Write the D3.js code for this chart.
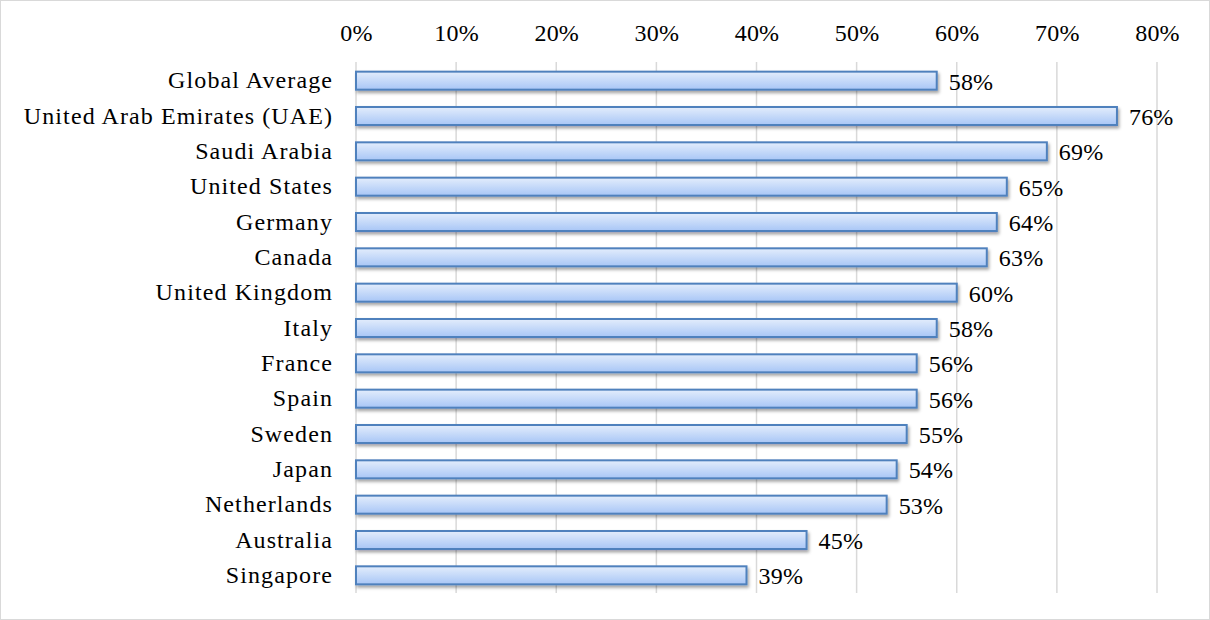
<!DOCTYPE html>
<html>
<head>
<meta charset="utf-8">
<script src="https://cdn.jsdelivr.net/npm/d3@7"></script>
<style>
  body { margin: 0; background: #fff; }
  svg text { font-family: "Liberation Serif", "Times New Roman", serif; fill: #000; }
</style>
</head>
<body>
<div id="chart"></div>
<script>
// categories and values (percent)
const countries = ['Global Average', 'United Arab Emirates (UAE)', 'Saudi Arabia', 'United States', 'Germany', 'Canada',
    'United Kingdom', 'Italy', 'France', 'Spain', 'Sweden', 'Japan', 'Netherlands', 'Australia', 'Singapore'];
const values = [58, 76, 69, 65, 64, 63, 60, 58, 56, 56, 55, 54, 53, 45, 39];
const ticks = [0, 10, 20, 30, 40, 50, 60, 70, 80];

const W = 1210, H = 620;
const margin = {top: 63, right: 53, bottom: 27, left: 356};
const width = W - margin.left - margin.right,
    height = H - margin.top - margin.bottom;
const fontSize = '24px';

const svg = d3.select('#chart')
    .append('svg')
        .attr('width', W)
        .attr('height', H);

// outer frame
svg.append('rect')
    .attr('x', 0.5).attr('y', 0.5)
    .attr('width', W - 1).attr('height', H - 1)
    .attr('fill', '#fff')
    .attr('stroke', '#d9d9d9');

const defs = svg.append('defs');
const grad = defs.append('linearGradient')
    .attr('id', 'barGrad')
    .attr('x1', 0).attr('y1', 0).attr('x2', 0).attr('y2', 1);
grad.append('stop').attr('offset', '0%').attr('stop-color', '#e3edfc');
grad.append('stop').attr('offset', '100%').attr('stop-color', '#a8c6f6');

const shadow = defs.append('filter').attr('id', 'shadow')
    .attr('x', '-5%').attr('y', '-50%').attr('width', '110%').attr('height', '220%');
shadow.append('feDropShadow')
    .attr('dx', 1.5).attr('dy', 2.5).attr('stdDeviation', 1.5)
    .attr('flood-color', '#000').attr('flood-opacity', 0.35);

const g = svg.append('g')
    .attr('transform', `translate(${margin.left},${margin.top})`);

var x = d3.scaleLinear()
    .domain([0, 80])
    .range([0, width]);

var y = d3.scaleBand()
    .domain(countries)
    .range([0, height])
    .paddingInner(0.49)
    .paddingOuter(0.245);

// vertical gridlines
g.append('g')
    .selectAll('line')
    .data(ticks)
    .enter()
    .append('line')
        .attr('x1', d => x(d)).attr('x2', d => x(d))
        .attr('y1', -1).attr('y2', height)
        .attr('stroke', '#d9d9d9')
        .attr('stroke-width', 1.5);

// top axis labels
const xAxis = g.append('g')
    .call(d3.axisTop(x).tickValues(ticks).tickFormat(d => d + '%').tickSize(0).tickPadding(22));
xAxis.select('.domain').remove();
xAxis.selectAll('text')
    .style('font-size', fontSize)
    .style('letter-spacing', '0.2px')
    .style('font-family', '"Liberation Serif", "Times New Roman", serif');

// category labels
const yAxis = g.append('g')
    .call(d3.axisLeft(y).tickSize(0).tickPadding(23));
yAxis.select('.domain').remove();
yAxis.selectAll('text')
    .style('font-size', fontSize)
    .style('letter-spacing', '1.1px')
    .style('font-family', '"Liberation Serif", "Times New Roman", serif');

// bars
g.selectAll('.bar')
    .data(values)
    .enter()
    .append('rect')
        .attr('class', 'bar')
        .attr('x', x(0))
        .attr('y', (d, i) => y(countries[i]))
        .attr('width', d => x(d) - x(0))
        .attr('height', y.bandwidth())
        .attr('fill', 'url(#barGrad)')
        .attr('stroke', '#4f81bd')
        .attr('stroke-width', 2)
        .attr('filter', 'url(#shadow)');

// value labels
g.selectAll('.val')
    .data(values)
    .enter()
    .append('text')
        .attr('class', 'val')
        .attr('x', d => x(d) + 12)
        .attr('y', (d, i) => y(countries[i]) + y.bandwidth() / 2 + 9)
        .style('font-size', fontSize)
        .style('letter-spacing', '0.2px')
        .text(d => d + '%');
</script>
</body>
</html>
